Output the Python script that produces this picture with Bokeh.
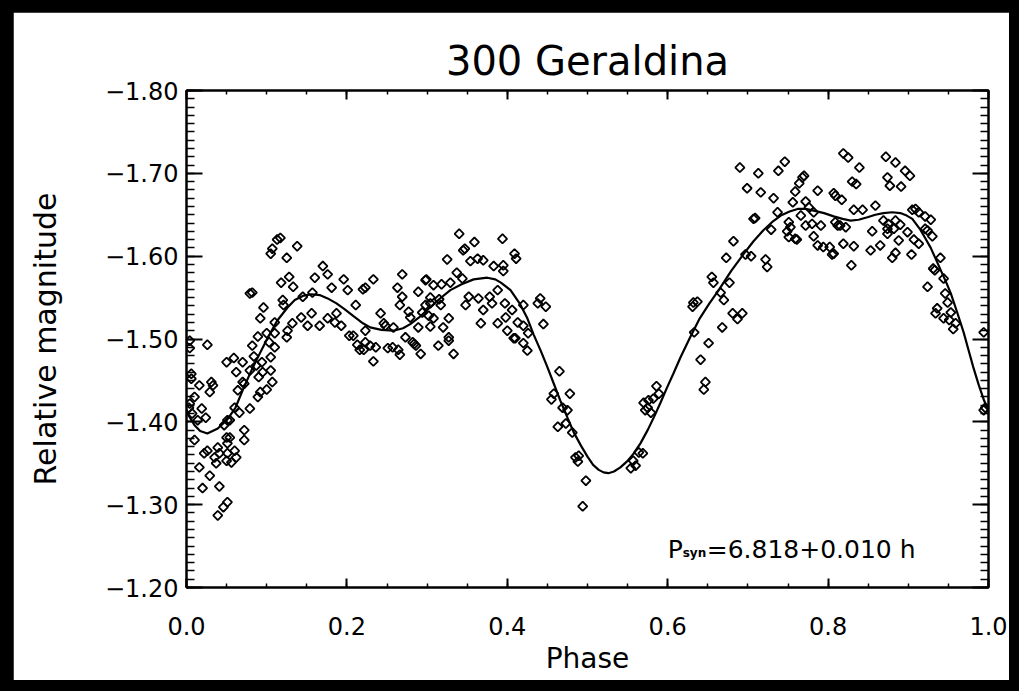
import numpy as np
from bokeh.plotting import figure
from bokeh.models import (Range1d, LinearAxis, FixedTicker, Label, Title,
                          GlobalInlineStyleSheet, CustomLabelingPolicy)
from bokeh.embed import file_html
from bokeh.resources import INLINE

# ---------------- data ----------------
phase = [
    0.113, 0.117, 0.107, 0.105, 0.138, 0.125, 0.079, 0.082, 0.118, 0.128, 0.133, 0.096, 0.092, 0.110,
    0.120, 0.121, 0.145, 0.157, 0.160, 0.170, 0.176, 0.181, 0.196, 0.201, 0.166, 0.151, 0.156, 0.143,
    0.132, 0.126, 0.125, 0.176, 0.185, 0.193, 0.203, 0.187, 0.110, 0.089, 0.082, 0.084, 0.100, 0.103,
    0.110, 0.105, 0.094, 0.087, 0.095, 0.090, 0.079, 0.070, 0.072, 0.064, 0.050, 0.059, 0.070, 0.062,
    0.107, 0.100, 0.089, 0.092, 0.105, 0.079, 0.060, 0.066, 0.051, 0.054, 0.047, 0.072, 0.072, 0.050,
    0.054, 0.051, 0.060, 0.051, 0.062, 0.050, 0.056, 0.039, 0.041, 0.035, 0.037, 0.026, 0.022, 0.029,
    0.016, 0.041, 0.020, 0.051, 0.046, 0.039, 0.026, 0.016, 0.031, 0.033, 0.029, 0.010, 0.019, 0.024,
    0.014, 0.010, 0.004, 0.004, 0.006, 0.006, 0.004, 0.007, 0.003,
    0.340, 0.394, 0.359, 0.345, 0.347, 0.325, 0.354, 0.363, 0.370, 0.383, 0.395, 0.395, 0.409, 0.411,
    0.337, 0.344, 0.329, 0.318, 0.269, 0.299, 0.308, 0.289, 0.263, 0.269, 0.233, 0.223, 0.220, 0.266,
    0.304, 0.304, 0.298, 0.317, 0.315, 0.294, 0.302, 0.308, 0.304, 0.289, 0.277, 0.279, 0.273, 0.282,
    0.284, 0.286, 0.292, 0.314, 0.327, 0.327, 0.333, 0.327, 0.320, 0.242, 0.246, 0.248, 0.258, 0.208,
    0.213, 0.223, 0.229, 0.236, 0.221, 0.216, 0.233, 0.251, 0.257, 0.266, 0.264, 0.223, 0.211, 0.348,
    0.352, 0.364, 0.370, 0.378, 0.381, 0.388, 0.397, 0.388, 0.367, 0.400, 0.408, 0.398, 0.406, 0.298,
    0.441,
    0.420, 0.438, 0.448, 0.413, 0.420, 0.426, 0.410, 0.420, 0.425, 0.445, 0.465, 0.458, 0.455, 0.478,
    0.469, 0.475, 0.463, 0.473, 0.481, 0.485, 0.489, 0.488, 0.498, 0.494, 0.554, 0.560, 0.557, 0.564,
    0.569, 0.575, 0.570, 0.576, 0.582, 0.572, 0.579, 0.586, 0.589,
    0.690, 0.713, 0.738, 0.746, 0.699, 0.716, 0.732, 0.768, 0.770, 0.764, 0.759, 0.787, 0.756, 0.772,
    0.737, 0.707, 0.709, 0.729, 0.751, 0.753, 0.749, 0.751, 0.759, 0.761, 0.766, 0.776, 0.782, 0.780,
    0.772, 0.791, 0.782, 0.787, 0.794, 0.802, 0.805, 0.809, 0.812, 0.682, 0.673, 0.697, 0.704, 0.722,
    0.724, 0.655, 0.657, 0.677, 0.666, 0.670, 0.632, 0.637, 0.631, 0.681, 0.693, 0.687, 0.668, 0.633,
    0.651, 0.641, 0.647, 0.645,
    0.819, 0.825, 0.839, 0.872, 0.884, 0.896, 0.902, 0.830, 0.835, 0.874, 0.877, 0.891, 0.807, 0.817,
    0.859, 0.832, 0.843, 0.905, 0.909, 0.913, 0.921, 0.928, 0.809, 0.815, 0.822, 0.869, 0.875, 0.884,
    0.890, 0.874, 0.882, 0.855, 0.874, 0.899, 0.921, 0.924, 0.907, 0.913, 0.888, 0.930, 0.819, 0.832,
    0.807, 0.853, 0.865, 0.884, 0.880, 0.904, 0.829, 0.940, 0.931, 0.933, 0.944, 0.924, 0.946, 0.949,
    0.936, 0.934, 0.944, 0.953, 0.951, 0.959, 0.956, 0.994, 0.994, 0.996,
]
mag = [
    -1.620, -1.622, -1.609, -1.603, -1.612, -1.598, -1.555, -1.556, -1.568, -1.575, -1.563, -1.538, -1.525, -1.520,
    -1.547, -1.541, -1.551, -1.556, -1.574, -1.588, -1.578, -1.562, -1.572, -1.559, -1.516, -1.516, -1.531, -1.526,
    -1.519, -1.510, -1.502, -1.525, -1.520, -1.516, -1.504, -1.531, -1.507, -1.503, -1.492, -1.479, -1.507, -1.496,
    -1.490, -1.478, -1.472, -1.468, -1.460, -1.454, -1.462, -1.448, -1.446, -1.438, -1.472, -1.477, -1.472, -1.460,
    -1.448, -1.439, -1.430, -1.436, -1.462, -1.416, -1.417, -1.411, -1.402, -1.402, -1.396, -1.390, -1.378, -1.381,
    -1.381, -1.374, -1.365, -1.362, -1.357, -1.353, -1.351, -1.369, -1.362, -1.357, -1.350, -1.365, -1.362, -1.335,
    -1.345, -1.322, -1.320, -1.303, -1.297, -1.287, -1.493, -1.444, -1.448, -1.444, -1.436, -1.430, -1.416, -1.405,
    -1.402, -1.378, -1.498, -1.489, -1.458, -1.452, -1.422, -1.410, -1.417,
    -1.627, -1.621, -1.617, -1.607, -1.609, -1.596, -1.594, -1.597, -1.595, -1.588, -1.589, -1.582, -1.603, -1.597,
    -1.580, -1.573, -1.568, -1.566, -1.578, -1.572, -1.565, -1.557, -1.562, -1.551, -1.572, -1.562, -1.560, -1.541,
    -1.550, -1.543, -1.541, -1.541, -1.548, -1.532, -1.528, -1.525, -1.515, -1.514, -1.533, -1.526, -1.502, -1.496,
    -1.494, -1.492, -1.482, -1.492, -1.498, -1.502, -1.482, -1.525, -1.514, -1.531, -1.519, -1.516, -1.514, -1.504,
    -1.493, -1.496, -1.492, -1.490, -1.487, -1.487, -1.473, -1.489, -1.490, -1.481, -1.487, -1.510, -1.541, -1.541,
    -1.551, -1.549, -1.535, -1.551, -1.543, -1.559, -1.543, -1.519, -1.519, -1.510, -1.501, -1.526, -1.535, -1.571,
    -1.549,
    -1.541, -1.543, -1.539, -1.520, -1.516, -1.507, -1.501, -1.495, -1.486, -1.518, -1.461, -1.434, -1.427, -1.434,
    -1.417, -1.414, -1.394, -1.398, -1.387, -1.357, -1.359, -1.352, -1.329, -1.298, -1.344, -1.347, -1.353, -1.363,
    -1.362, -1.417, -1.423, -1.426, -1.428, -1.414, -1.411, -1.443, -1.434,
    -1.707, -1.700, -1.703, -1.714, -1.682, -1.677, -1.670, -1.695, -1.697, -1.688, -1.678, -1.679, -1.665, -1.666,
    -1.653, -1.645, -1.646, -1.632, -1.641, -1.635, -1.630, -1.623, -1.621, -1.620, -1.649, -1.659, -1.653, -1.639,
    -1.637, -1.637, -1.624, -1.613, -1.611, -1.611, -1.602, -1.673, -1.637, -1.618, -1.598, -1.602, -1.600, -1.596,
    -1.587, -1.575, -1.568, -1.568, -1.556, -1.547, -1.544, -1.545, -1.539, -1.531, -1.531, -1.524, -1.514, -1.508,
    -1.495, -1.475, -1.448, -1.439,
    -1.724, -1.719, -1.707, -1.720, -1.713, -1.703, -1.697, -1.690, -1.687, -1.695, -1.685, -1.684, -1.676, -1.668,
    -1.661, -1.656, -1.656, -1.656, -1.657, -1.653, -1.648, -1.644, -1.641, -1.637, -1.635, -1.643, -1.639, -1.643,
    -1.638, -1.633, -1.633, -1.630, -1.627, -1.629, -1.633, -1.631, -1.620, -1.615, -1.619, -1.624, -1.615, -1.612,
    -1.603, -1.607, -1.613, -1.604, -1.598, -1.602, -1.589, -1.598, -1.585, -1.583, -1.573, -1.563, -1.555, -1.544,
    -1.537, -1.531, -1.525, -1.532, -1.523, -1.519, -1.512, -1.508, -1.414, -1.417,
]

fit_phase = [
    0.000, 0.010, 0.017, 0.026, 0.039, 0.051, 0.061, 0.070, 0.080, 0.088, 0.101, 0.113, 0.126, 0.135,
    0.145, 0.156, 0.166, 0.176, 0.187, 0.197, 0.209, 0.220, 0.229, 0.243, 0.258, 0.270, 0.279, 0.290,
    0.300, 0.315, 0.329, 0.343, 0.358, 0.375, 0.385, 0.392, 0.404, 0.416, 0.425, 0.433, 0.442, 0.450,
    0.458, 0.466, 0.475, 0.483, 0.492, 0.500, 0.507, 0.514, 0.520, 0.526, 0.533, 0.541, 0.549, 0.557,
    0.566, 0.575, 0.583, 0.591, 0.599, 0.607, 0.616, 0.628, 0.640, 0.652, 0.663, 0.679, 0.695, 0.707,
    0.719, 0.730, 0.741, 0.752, 0.762, 0.772, 0.782, 0.795, 0.807, 0.818, 0.828, 0.838, 0.849, 0.859,
    0.869, 0.880, 0.890, 0.898, 0.905, 0.915, 0.921, 0.928, 0.934, 0.940, 0.947, 0.953, 0.961, 0.969,
    0.975, 0.981, 0.988, 0.994, 1.000,
]
fit_mag = [
    -1.412, -1.396, -1.389, -1.386, -1.392, -1.403, -1.417, -1.438, -1.460, -1.476, -1.501, -1.522, -1.538, -1.547,
    -1.552, -1.554, -1.553, -1.549, -1.543, -1.536, -1.527, -1.519, -1.514, -1.511, -1.510, -1.513, -1.518, -1.526,
    -1.535, -1.548, -1.559, -1.566, -1.572, -1.574, -1.572, -1.568, -1.559, -1.542, -1.525, -1.505, -1.485, -1.466,
    -1.446, -1.426, -1.405, -1.387, -1.371, -1.358, -1.348, -1.342, -1.339, -1.338, -1.340, -1.345, -1.352, -1.361,
    -1.374, -1.390, -1.406, -1.423, -1.441, -1.458, -1.478, -1.502, -1.525, -1.543, -1.558, -1.582, -1.603, -1.618,
    -1.631, -1.641, -1.649, -1.654, -1.657, -1.657, -1.655, -1.652, -1.648, -1.645, -1.643, -1.644, -1.647, -1.650,
    -1.652, -1.653, -1.652, -1.649, -1.645, -1.632, -1.622, -1.610, -1.597, -1.584, -1.569, -1.555, -1.532, -1.508,
    -1.487, -1.466, -1.444, -1.427, -1.413,
]

x_ticks = [0.0, 0.2, 0.4, 0.6, 0.8, 1.0]
x_tick_labels = ["0.0", "0.2", "0.4", "0.6", "0.8", "1.0"]
y_ticks = [-1.80, -1.70, -1.60, -1.50, -1.40, -1.30, -1.20]
y_tick_labels = ["\u22121.80", "\u22121.70", "\u22121.60", "\u22121.50", "\u22121.40", "\u22121.30", "\u22121.20"]

x_minor = [round(v, 2) for v in np.arange(0.0, 1.0001, 0.05)]
y_minor = [round(v, 2) for v in np.arange(-1.80, -1.1999, 0.01)]

FONT = "DejaVu Sans"

p = figure(
    width=996, height=668,
    x_range=Range1d(0.0, 1.0), y_range=Range1d(-1.20, -1.80),
    output_backend="svg", toolbar_location=None,
    min_border_left=173, min_border_right=21, min_border_top=78, min_border_bottom=93,
    background_fill_color="white", border_fill_color="white",
)
p.stylesheets = [GlobalInlineStyleSheet(css="body { background: black; }")]
p.styles = {"margin-left": "13px", "margin-top": "12px"}

p.title = Title(text="300 Geraldina", align="center", text_font=FONT,
                text_font_size="40px", text_font_style="normal", text_color="black",
                standoff=13)

p.xgrid.visible = False
p.ygrid.visible = False
p.outline_line_color = "black"
p.outline_line_width = 2

no_labels = CustomLabelingPolicy(code="""
    const n = indices.size
    for (let i = 0; i < n; i++) { indices.unset(i) }
    return indices
""")


def style_axis(ax, is_x, show_labels):
    if is_x:
        ax.ticker = FixedTicker(ticks=x_ticks, minor_ticks=x_minor)
        ax.major_label_overrides = dict(zip(x_ticks, x_tick_labels))
        ax.major_tick_in = 9
        ax.minor_tick_in = 4
        ax.major_label_standoff = 29
    else:
        ax.ticker = FixedTicker(ticks=y_ticks, minor_ticks=y_minor)
        ax.major_label_overrides = dict(zip(y_ticks, y_tick_labels))
        ax.major_tick_in = 16
        ax.minor_tick_in = 8
        ax.major_label_standoff = 8
    ax.major_tick_out = 0
    ax.minor_tick_out = 0
    ax.axis_line_color = "black"
    ax.axis_line_width = 2
    ax.major_tick_line_color = "black"
    ax.major_tick_line_width = 2
    ax.minor_tick_line_color = "black"
    ax.minor_tick_line_width = 1.5
    ax.major_label_text_font = FONT
    ax.major_label_text_color = "black"
    ax.major_label_text_font_size = "24px"
    if not show_labels:
        ax.major_label_policy = no_labels
        ax.major_label_text_font_size = "0px"
        ax.major_label_standoff = 0


bx = p.xaxis[0]
style_axis(bx, True, True)
bx.axis_label = "Phase"
bx.axis_label_text_font = FONT
bx.axis_label_text_font_size = "28px"
bx.axis_label_text_font_style = "normal"
bx.axis_label_text_color = "black"
bx.axis_label_standoff = 4

ly = p.yaxis[0]
style_axis(ly, False, True)
ly.axis_label = "Relative magnitude"
ly.axis_label_text_font = FONT
ly.axis_label_text_font_size = "30px"
ly.axis_label_text_font_style = "normal"
ly.axis_label_text_color = "black"
ly.axis_label_standoff = 39

top = LinearAxis()
style_axis(top, True, False)
p.add_layout(top, "above")

right = LinearAxis()
style_axis(right, False, False)
p.add_layout(right, "right")

p.line(fit_phase, fit_mag, line_color="black", line_width=2.2)
p.scatter(phase, mag, marker="square", angle=np.pi / 4, size=6.5,
          fill_color=None, line_color="black", line_width=1.8)

# period annotation: P_syn=6.818+0.010 h
p.add_layout(Label(x=0.600, y=-1.246, text="P", text_font=FONT, text_font_size="25px",
                   text_color="black", text_baseline="alphabetic"))
p.add_layout(Label(x=0.600, y=-1.246, x_offset=15, y_offset=-4, text="syn", text_font=FONT,
                   text_font_size="12px", text_font_style="bold", text_color="black",
                   text_baseline="alphabetic"))
p.add_layout(Label(x=0.600, y=-1.246, x_offset=39, text="=6.818+0.010    h", text_font=FONT,
                   text_font_size="25px", text_color="black", text_baseline="alphabetic"))

open("out.html", "w").write(file_html(p, INLINE))
